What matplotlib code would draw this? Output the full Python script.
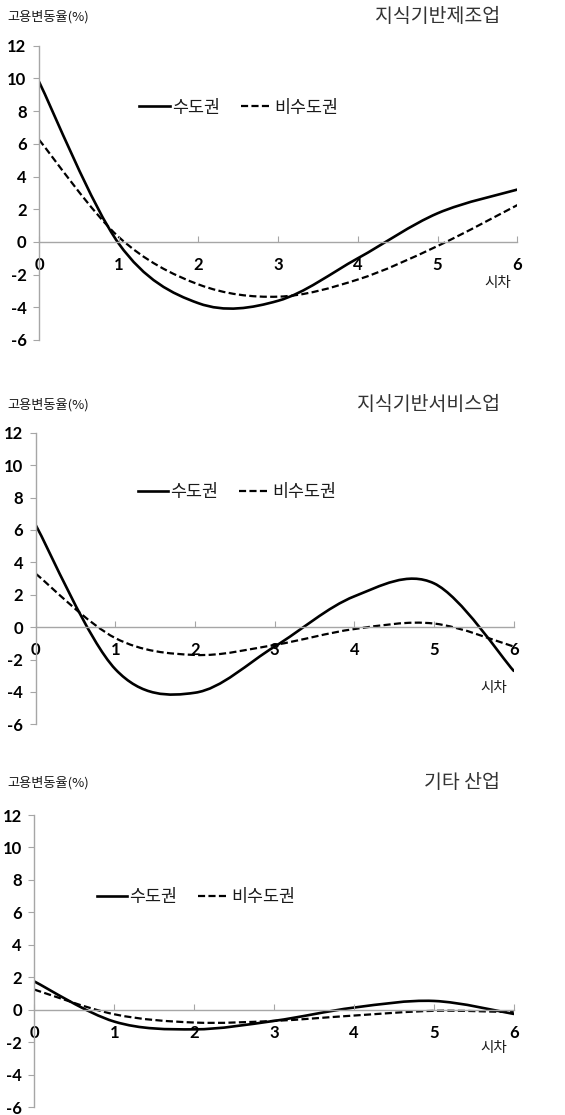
import matplotlib
matplotlib.use("Agg")
import matplotlib.pyplot as plt
import numpy as np
from matplotlib.path import Path
from matplotlib.patches import PathPatch
from matplotlib.lines import Line2D

plt.rcParams["font.family"] = ["Noto Sans CJK KR", "DejaVu Sans"]
plt.rcParams["axes.unicode_minus"] = False

W, H = 565, 1115
INK = "#1A1A1A"; AX = "#A6A6A6"

lags = [0, 1, 2, 3, 4, 5, 6]
titles = ["지식기반제조업", "지식기반서비스업", "기타 산업"]
capital = [  # 수도권
    [9.8, -0.1, -3.75, -3.6, -1.0, 1.75, 3.2],
    [6.3, -2.6, -4.05, -1.2, 1.9, 2.7, -2.7],
    [1.75, -0.72, -1.2, -0.68, 0.14, 0.55, -0.25],
]
noncapital = [  # 비수도권
    [6.25, 0.3, -2.6, -3.35, -2.3, -0.25, 2.25],
    [3.3, -0.68, -1.72, -1.1, -0.12, 0.22, -1.2],
    [1.25, -0.27, -0.78, -0.68, -0.35, -0.06, -0.14],
]
yticks = [-6, -4, -2, 0, 2, 4, 6, 8, 10, 12]

# pixel boxes: left, right, top(y=12), bottom(y=-6)
boxes = [(39, 517.3, 45.7, 340), (35.7, 513.7, 432.7, 724.3), (34.3, 513.7, 815, 1107.3)]
legpos = [(0.21, 0.79), (0.213, 0.797), (0.13, 0.72)]
sicha_y = [-2.5, -3.75, -2.35]
head_y = [17, 405, 783]
TICKFONT = dict(family="Lato", weight="bold", size=12)


def smooth_path(x, y):
    # excel-like smoothed line: cubic bezier through the points
    x = np.asarray(x, float); y = np.asarray(y, float)
    px = np.r_[x[0], x, x[-1]]; py = np.r_[y[0], y, y[-1]]
    verts = [(x[0], y[0])]; codes = [Path.MOVETO]
    for i in range(len(x) - 1):
        j = i + 1
        c1 = (px[j] + (px[j + 1] - px[j - 1]) / 6, py[j] + (py[j + 1] - py[j - 1]) / 6)
        c2 = (px[j + 1] - (px[j + 2] - px[j]) / 6, py[j + 1] - (py[j + 2] - py[j]) / 6)
        verts += [c1, c2, (x[j], y[j])]
        codes += [Path.CURVE4] * 3
    return Path(verts, codes)


fig = plt.figure(figsize=(W / 100, H / 100), dpi=100)
for k in range(3):
    l, r, t, b = boxes[k]
    ax = fig.add_axes([l / W, 1 - b / H, (r - l) / W, (b - t) / H])
    ax.set_xlim(0, 6); ax.set_ylim(-6, 12)
    for s in ["top", "right"]:
        ax.spines[s].set_visible(False)
    ax.spines["left"].set_color(AX); ax.spines["left"].set_linewidth(1.0)
    ax.spines["bottom"].set_position(("data", 0))
    ax.spines["bottom"].set_color(AX); ax.spines["bottom"].set_linewidth(1.0)
    ax.set_yticks(yticks)
    ax.set_xticks(lags)
    ax.tick_params(axis="y", direction="out", length=4, color=AX, pad=5)
    ax.tick_params(axis="x", direction="in", length=4, color=AX, pad=11)
    for lab in ax.get_xticklabels() + ax.get_yticklabels():
        lab.set_fontproperties(TICKFONT); lab.set_color("black")
    ax.add_patch(PathPatch(smooth_path(lags, capital[k]), fc="none", ec="black", lw=1.9, capstyle="round"))
    ax.add_patch(PathPatch(smooth_path(lags, noncapital[k]), fc="none", ec="black", lw=1.6,
                           ls=(0, (3.2, 1.5))))
    h1 = Line2D([], [], color="black", lw=1.9)
    h2 = Line2D([], [], color="black", lw=1.6, ls=(0, (3.2, 1.5)))
    ax.legend([h1, h2], ["수도권", "비수도권"], loc="center left", bbox_to_anchor=legpos[k],
              ncol=2, frameon=False, fontsize=12.5, handlelength=1.75, handletextpad=0.15,
              columnspacing=1.2, borderpad=0, borderaxespad=0, labelcolor=INK)
    ax.text(5.75, sicha_y[k], "시차", ha="center", va="center", fontsize=10.5, color=INK)
    fig.text(500 / W, 1 - head_y[k] / H, titles[k], ha="right", va="center", fontsize=14, color="#333333")
    fig.text(7 / W, 1 - head_y[k] / H, "고용변동율(%)", ha="left", va="center", fontsize=9.5, color=INK)

fig.savefig("out.png", dpi=100, facecolor="white")
